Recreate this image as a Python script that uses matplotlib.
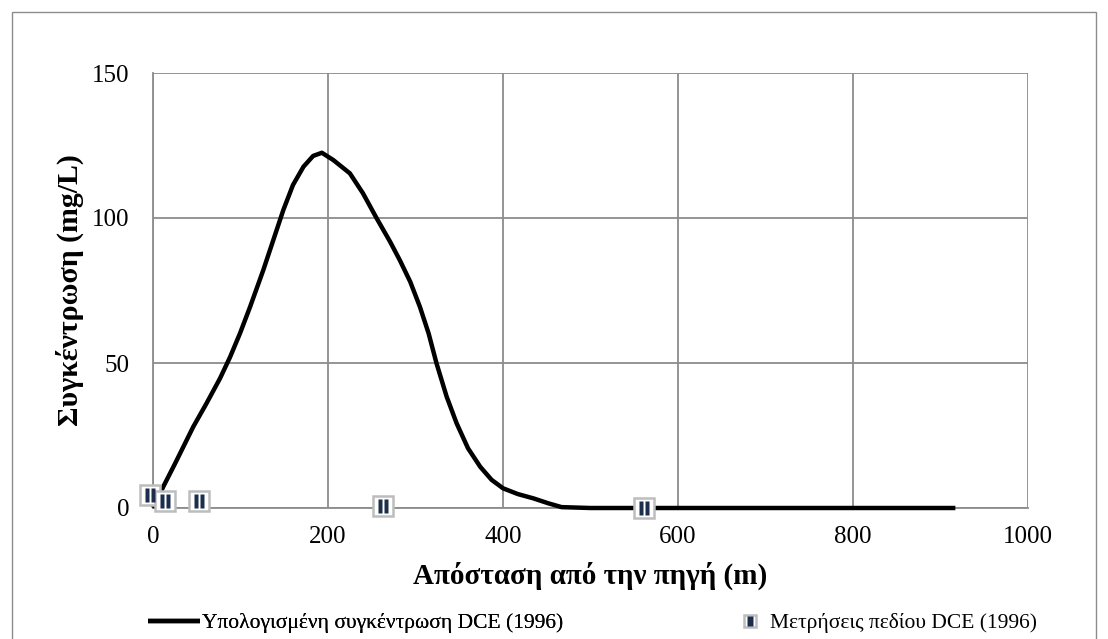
import matplotlib
matplotlib.use('Agg')
import matplotlib.pyplot as plt
from matplotlib.path import Path
from matplotlib.patches import Rectangle

plt.rcParams['font.family'] = ['Liberation Serif', 'DejaVu Serif']

# calculated concentration
dist_calc = [0, 12, 25, 46, 61, 76.6, 88, 99.4, 111, 126, 137.5, 149, 160, 172,
             183, 193, 206, 225, 240, 255.6, 271, 282, 294, 305, 315, 324,
             335.6, 347, 360, 374, 387, 400, 417, 435, 452, 467, 500, 600,
             700, 800, 917]
conc_calc = [0, 7.5, 15.2, 28, 36, 44.7, 52, 60.2, 69.4, 82, 92.4, 102.8, 111.4,
             117.7, 121.4, 122.5, 120, 115.4, 108.5, 99.9, 91.8, 85.5, 78, 69.4,
             60.2, 49.9, 38.4, 29.2, 20.6, 14.2, 9.7, 6.8, 4.8, 3.3, 1.6, 0.3,
             0, 0, 0, 0, 0]

# field measurements
dist_meas = [-3, 14, 53, 263, 561]
conc_meas = [4.5, 2.4, 2.5, 0.7, 0.0]

lbl_calc = 'Υπολογισμένη συγκέντρωση DCE (1996)'
lbl_meas = 'Μετρήσεις πεδίου DCE (1996)'
xlab = 'Απόσταση από την πηγή (m)'
ylab = 'Συγκέντρωση (mg/L)'

fig = plt.figure(figsize=(11.08, 6.39), dpi=100)
ax = fig.add_axes([153/1108, 1 - 508/639, 875/1108, 435/639])

grid_c = '#8c8c8c'
ax.plot(dist_calc, conc_calc, color='black', lw=3.2, solid_capstyle='butt',
        solid_joinstyle='round', zorder=3, clip_on=False)

# marker: grey framed square with two navy bars
bars = Path([(-0.32, -0.5), (-0.04, -0.5), (-0.04, 0.5), (-0.32, 0.5), (-0.32, -0.5),
             (0.04, -0.5), (0.32, -0.5), (0.32, 0.5), (0.04, 0.5), (0.04, -0.5)],
            [Path.MOVETO, Path.LINETO, Path.LINETO, Path.LINETO, Path.CLOSEPOLY] * 2)
sq, = ax.plot(dist_meas, conc_meas, ls='none', marker='s', ms=14,
              mfc='white', mec='#bdbdbd', mew=1.8, zorder=4, clip_on=False)
br, = ax.plot(dist_meas, conc_meas, ls='none', marker=bars, ms=10.5,
              mfc='#1b2e4b', mec='none', zorder=5, clip_on=False)

ax.set_xlim(0, 1000)
ax.set_ylim(0, 150)
ax.set_xticks(range(0, 1001, 200))
ax.set_yticks([0, 50, 100, 150])
ax.grid(True, color=grid_c, lw=1.3)
ax.set_axisbelow(True)
for s in ['top', 'right']:
    ax.spines[s].set_visible(False)
for s in ['left', 'bottom']:
    ax.spines[s].set_color(grid_c)
    ax.spines[s].set_linewidth(1.3)
ax.tick_params(length=0, labelsize=18)
ax.tick_params(axis='y', pad=17)
ax.tick_params(axis='x', pad=13)

ax.set_xlabel(xlab, fontsize=21, fontweight='bold', labelpad=10)
ax.set_ylabel(ylab, fontsize=21.5, fontweight='bold', labelpad=6)

leg1 = fig.legend([ax.lines[0]], [lbl_calc], loc='center left',
                  bbox_to_anchor=(148/1108, 16/639), frameon=False, fontsize=15.5,
                  handlelength=2.42, handletextpad=0.1, borderpad=0,
                  borderaxespad=0)
fig.add_artist(leg1)
fig.legend([(sq, br)], [lbl_meas], loc='center left',
           bbox_to_anchor=(739/1108, 16/639), frameon=False, fontsize=15.5,
           handlelength=1.0, handletextpad=0.45, borderpad=0, borderaxespad=0,
           markerscale=0.65)

# outer chart border
fig.add_artist(Rectangle((12/1108, -0.05), 1084/1108, 1.05 - 12/639,
                         transform=fig.transFigure, fill=False,
                         edgecolor='#8c8c8c', lw=1.0))

fig.savefig('out.png', dpi=100)
